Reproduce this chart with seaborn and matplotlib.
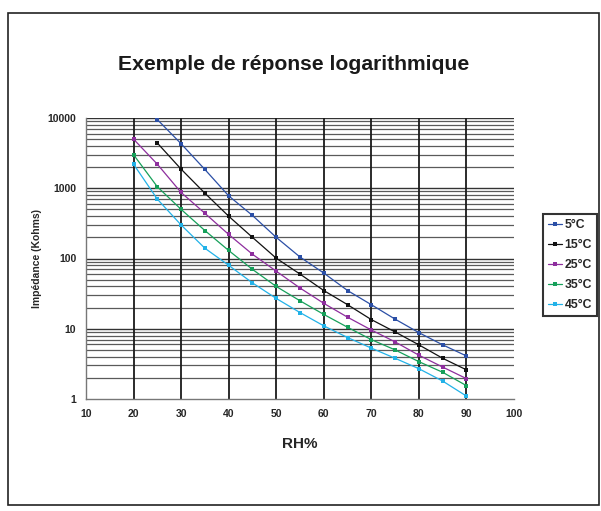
import numpy as np
import pandas as pd
import matplotlib
matplotlib.use("Agg")
import matplotlib.pyplot as plt
import matplotlib.patches as mpatches
from matplotlib.ticker import FixedLocator, NullFormatter
import seaborn as sns

sns.set_theme(style="white")
plt.rcParams['font.family'] = ['Liberation Sans', 'DejaVu Sans']

rh_a = [25, 30, 35, 40, 45, 50, 55, 60, 65, 70, 75, 80, 85, 90]
rh_b = [20, 25, 30, 35, 40, 45, 50, 55, 60, 65, 70, 75, 80, 85, 90]

t5 = [9500, 4300, 1850, 780, 410, 200, 105, 62, 35, 22, 13.7, 8.8, 5.9, 4.1]
t15 = [4400, 1870, 850, 400, 200, 101, 60, 35, 22, 13.5, 9.0, 5.9, 3.8, 2.6]
t25 = [5000, 2200, 870, 440, 220, 115, 66, 38, 23, 14.6, 9.6, 6.5, 4.2, 2.85, 1.95]
t35 = [3000, 1050, 500, 250, 130, 70, 40, 25, 16, 10.5, 7.0, 5.0, 3.4, 2.4, 1.55]
t45 = [2200, 700, 300, 140, 80, 45, 27, 17, 11, 7.5, 5.3, 3.8, 2.7, 1.8, 1.1]

labels = ["5°C", "15°C", "25°C", "35°C", "45°C"]
colors = ["#2B4FA6", "#111111", "#8E2E9E", "#16A05A", "#22B2E8"]

frames = []
for lab, xs, ys in zip(labels, [rh_a, rh_a, rh_b, rh_b, rh_b], [t5, t15, t25, t35, t45]):
    frames.append(pd.DataFrame({"RH": xs, "Z": ys, "T": lab}))
df = pd.concat(frames, ignore_index=True)

fig = plt.figure(figsize=(6.01, 5.11), dpi=100)
ax = fig.add_axes([86/601, 1-399/511, 428/601, 281/511])

ax.set_yscale('log')
ax.set_xlim(10, 100)
ax.set_ylim(1, 10000)

# log paper grid
for dec in [1, 10, 100, 1000]:
    for m in range(2, 10):
        ax.axhline(dec*m, color='#5a5a5a', lw=0.9, zorder=1)
for v in [10, 100, 1000, 10000]:
    ax.axhline(v, color='#333333', lw=1.0, zorder=1)
for xv in range(20, 100, 10):
    ax.axvline(xv, color='#1a1a1a', lw=1.3, zorder=1)

for lab, col in zip(labels, colors):
    sub = df[df["T"] == lab]
    sns.lineplot(data=sub, x="RH", y="Z", color=col, lw=0.9, marker='s',
                 markersize=3, markeredgewidth=0, ax=ax, label=lab, zorder=3)

ax.set_xticks(range(10, 101, 10))
ax.set_xticklabels([str(v) for v in range(10, 101, 10)], fontsize=7.5, fontweight='bold')
ax.yaxis.set_major_locator(FixedLocator([1, 10, 100, 1000, 10000]))
ax.yaxis.set_minor_formatter(NullFormatter())
ax.set_yticklabels(["1", "10", "100", "1000", "10000"], fontsize=7.5, fontweight='bold')
ax.tick_params(axis='both', length=0, pad=7)
ax.tick_params(axis='y', which='minor', length=0)

for s in ['top', 'right']:
    ax.spines[s].set_visible(False)
for s in ['left', 'bottom']:
    ax.spines[s].set_color('#777777')
    ax.spines[s].set_linewidth(1.0)

ax.set_xlabel("RH%", fontsize=11, fontweight='bold', labelpad=13)
ax.set_ylabel("Impédance (Kohms)", fontsize=7.5, fontweight='bold', labelpad=4)

leg = ax.legend(loc='upper right', bbox_to_anchor=(597/601, 1-214/511),
                bbox_transform=fig.transFigure, frameon=True, fancybox=False,
                edgecolor='black', prop={'weight': 'bold', 'size': 8.8},
                handlelength=1.2, handletextpad=0.2, labelspacing=0.66,
                borderpad=0.4, borderaxespad=0)
leg.get_frame().set_linewidth(1.5)

fig.text(294/601, 1-65/511, "Exemple de réponse logarithmique", ha='center', va='center',
         fontsize=15.2, fontweight='bold', color='#1a1a1a')

fig.patches.append(mpatches.Rectangle((8/601, 1-505/511), 591/601, 492/511,
                                      transform=fig.transFigure, fill=False,
                                      edgecolor='#222222', lw=1.2))

fig.savefig("out.png", dpi=100)
